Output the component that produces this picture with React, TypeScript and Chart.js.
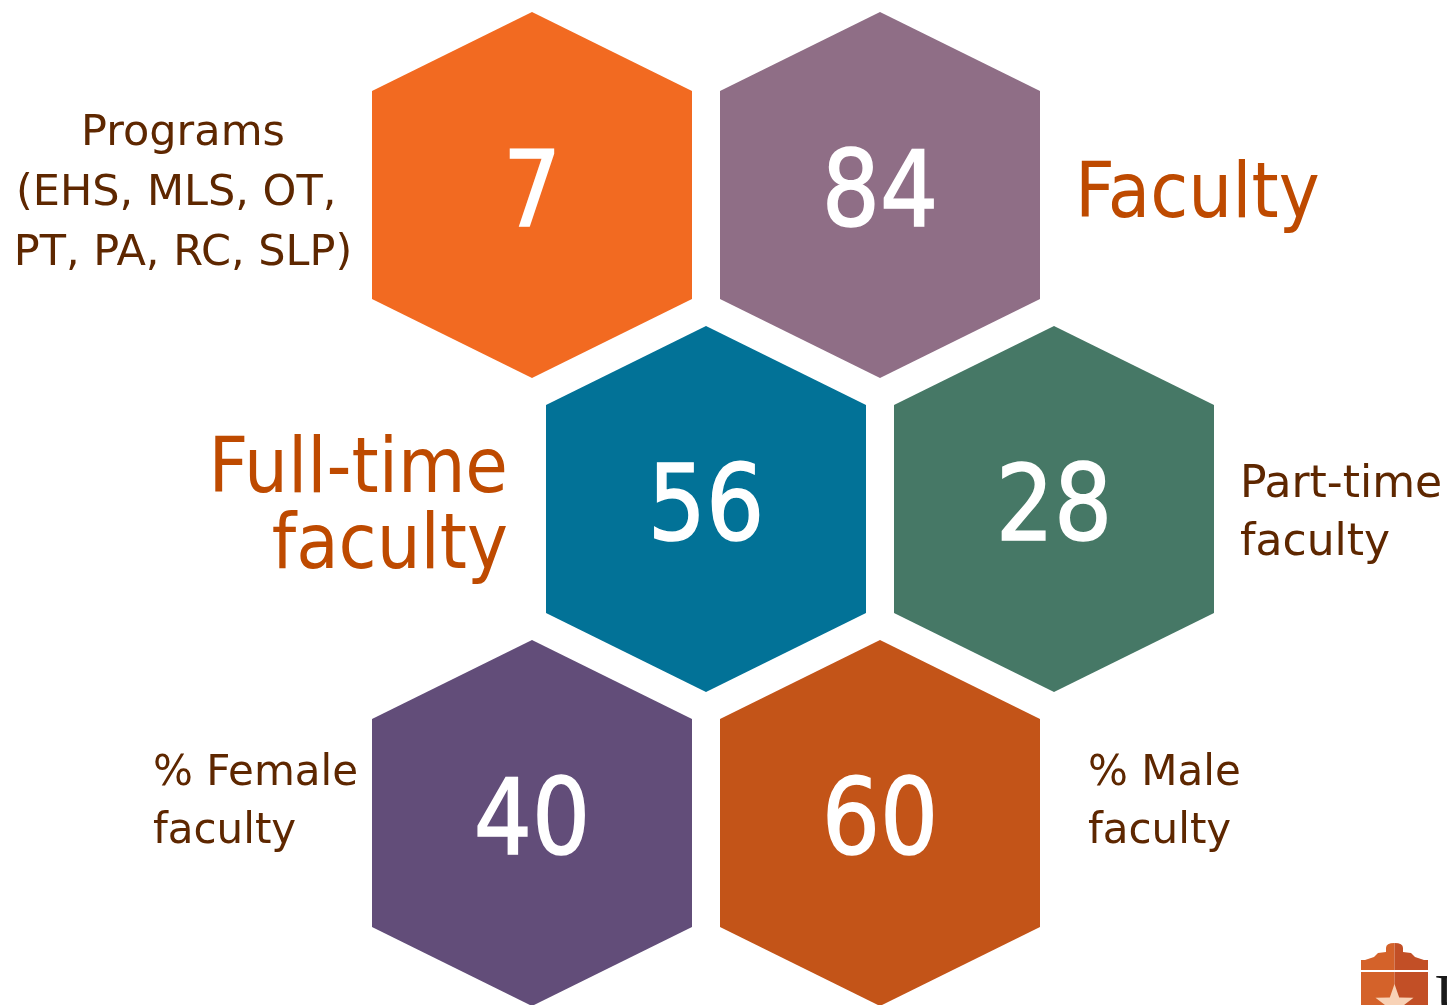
import { useEffect, useRef } from "react";
import { Chart, registerables } from "chart.js";

Chart.register(...registerables);

// ---- data ----
const categories = [
  "Programs",
  "Faculty",
  "Full-time faculty",
  "Part-time faculty",
  "% Female faculty",
  "% Male faculty",
];
const values = [7, 84, 56, 28, 40, 60];
// honeycomb grid position of each hexagon (half-column units, rows)
const gridCol = [0, 2, 1, 3, 0, 2];
const gridRow = [0, 0, 1, 1, 2, 2];
const hexColors = ["#F26A21", "#8F6E86", "#027297", "#467866", "#624D79", "#C35418"];

const labelLines = [
  ["Programs", "(EHS, MLS, OT, ", "PT, PA, RC, SLP)"],
  ["Faculty"],
  ["Full-time", "faculty"],
  ["Part-time", "faculty"],
  ["% Female", "faculty"],
  ["% Male", "faculty"],
];

// ---- layout / style (kept separate from data) ----
const W = 1447;
const H = 1005;
const COL_PX = 174;
const ROW_PX = 314;
const ORIGIN_X = 532;
const ORIGIN_Y = 195;
const HEX_HALF_W = 160 / COL_PX; // in column units
const HEX_HALF_H = 183 / ROW_PX; // in row units
const HEX_SHOULDER = 104 / ROW_PX; // in row units

const BROWN = "#5E2700";
const ORANGE = "#BE4A00";
const FAMILY_COND = '"DejaVu Sans Condensed", "DejaVu Sans", sans-serif';
const FAMILY_REG = '"DejaVu Sans", sans-serif';

const labelLayout = [
  { x: 183, y: 145, align: "center", size: 43, lh: 60, color: BROWN, cond: false },
  { x: 1075, y: 217, align: "left", size: 77, lh: 76, color: ORANGE, cond: true },
  { x: 508, y: 492, align: "right", size: 77, lh: 76, color: ORANGE, cond: true },
  { x: 1240, y: 497, align: "left", size: 44, lh: 58, color: BROWN, cond: false },
  { x: 153, y: 785, align: "left", size: 42, lh: 58, color: BROWN, cond: false },
  { x: 1088, y: 785, align: "left", size: 42, lh: 58, color: BROWN, cond: false },
];

const setFont = (ctx: CanvasRenderingContext2D, size: number, cond: boolean) => {
  ctx.font = `${size}px ${cond ? FAMILY_COND : FAMILY_REG}`;
  try {
    (ctx as any).fontStretch = cond ? "condensed" : "normal";
  } catch (e) {}
};

const hexPlugin = {
  id: "hexPlugin",
  afterDatasetsDraw(chart: any) {
    const ctx: CanvasRenderingContext2D = chart.ctx;
    const xs = chart.scales.x;
    const ys = chart.scales.y;
    const hw = Math.abs(xs.getPixelForValue(HEX_HALF_W) - xs.getPixelForValue(0));
    const hh = Math.abs(ys.getPixelForValue(HEX_HALF_H) - ys.getPixelForValue(0));
    const sh = Math.abs(ys.getPixelForValue(HEX_SHOULDER) - ys.getPixelForValue(0));
    const meta = chart.getDatasetMeta(0);
    ctx.save();
    meta.data.forEach((el: any, i: number) => {
      const cx = el.x;
      const cy = el.y;
      ctx.beginPath();
      ctx.moveTo(cx, cy - hh);
      ctx.lineTo(cx + hw, cy - sh);
      ctx.lineTo(cx + hw, cy + sh);
      ctx.lineTo(cx, cy + hh);
      ctx.lineTo(cx - hw, cy + sh);
      ctx.lineTo(cx - hw, cy - sh);
      ctx.closePath();
      ctx.fillStyle = hexColors[i];
      ctx.fill();

      ctx.save();
      ctx.translate(cx, cy + 31);
      ctx.scale(0.96, 1);
      setFont(ctx, 106, true);
      ctx.fillStyle = "#FFFFFF";
      ctx.strokeStyle = "#FFFFFF";
      ctx.lineWidth = 1.5;
      ctx.textAlign = "center";
      ctx.textBaseline = "alphabetic";
      ctx.fillText(String(values[i]), 0, 0);
      ctx.strokeText(String(values[i]), 0, 0);
      ctx.restore();
    });

    labelLines.forEach((lines, i) => {
      const L = labelLayout[i];
      setFont(ctx, L.size, L.cond);
      ctx.fillStyle = L.color;
      ctx.textAlign = L.align as CanvasTextAlign;
      ctx.textBaseline = "alphabetic";
      lines.forEach((t, k) => ctx.fillText(t, L.x, L.y + k * L.lh));
    });

    // logo fragment (bottom right)
    const lx = 1361, rx = 1428, mx = 1394.5;
    const shield = (x0: number, x1: number, color: string, left: boolean) => {
      ctx.beginPath();
      if (left) {
        ctx.moveTo(mx, 943);
        ctx.quadraticCurveTo(1386, 943, 1386, 948);
        ctx.lineTo(1386, 952);
        ctx.lineTo(1378, 953);
        ctx.lineTo(1374, 957);
        ctx.lineTo(x0 + 4, 960);
        ctx.lineTo(x0, 960);
        ctx.lineTo(x0, 1005);
        ctx.lineTo(mx, 1005);
      } else {
        ctx.moveTo(mx, 943);
        ctx.quadraticCurveTo(1403, 943, 1403, 948);
        ctx.lineTo(1403, 952);
        ctx.lineTo(1411, 953);
        ctx.lineTo(1415, 957);
        ctx.lineTo(x1 - 4, 960);
        ctx.lineTo(x1, 960);
        ctx.lineTo(x1, 1005);
        ctx.lineTo(mx, 1005);
      }
      ctx.closePath();
      ctx.fillStyle = color;
      ctx.fill();
    };
    shield(lx, rx, "#D4622A", true);
    shield(lx, rx, "#C24F26", false);
    ctx.fillStyle = "#FFFFFF";
    ctx.fillRect(lx, 970, rx - lx, 2);
    ctx.beginPath();
    const sr = 20, sr2 = 8, scx = mx, scy = 1004;
    for (let k = 0; k < 10; k++) {
      const r = k % 2 === 0 ? sr : sr2;
      const a = -Math.PI / 2 + (k * Math.PI) / 5;
      const px = scx + r * Math.cos(a);
      const py = scy + r * Math.sin(a);
      if (k === 0) ctx.moveTo(px, py);
      else ctx.lineTo(px, py);
    }
    ctx.closePath();
    ctx.fillStyle = "#F8D2B6";
    ctx.fill();
    ctx.font = '60px "Liberation Serif", serif';
    ctx.fillStyle = "#1A1A1A";
    ctx.textAlign = "left";
    ctx.fillText("U", 1435, 1015);
    ctx.restore();
  },
};

export default function App() {
  const ref = useRef<HTMLCanvasElement | null>(null);
  useEffect(() => {
    if (!ref.current) return;
    const chart = new Chart(ref.current, {
      type: "scatter",
      data: {
        labels: categories,
        datasets: [
          {
            label: "Hexagons",
            data: gridCol.map((c, i) => ({ x: c, y: gridRow[i] })),
            pointRadius: 0,
            pointHoverRadius: 0,
          },
        ],
      },
      options: {
        responsive: false,
        animation: false,
        events: [],
        layout: { padding: 0 },
        plugins: { legend: { display: false }, tooltip: { enabled: false } },
        scales: {
          x: {
            type: "linear",
            display: false,
            min: -ORIGIN_X / COL_PX,
            max: (W - ORIGIN_X) / COL_PX,
          },
          y: {
            type: "linear",
            display: false,
            reverse: true,
            min: -ORIGIN_Y / ROW_PX,
            max: (H - ORIGIN_Y) / ROW_PX,
          },
        },
      },
      plugins: [hexPlugin],
    });
    return () => chart.destroy();
  }, []);
  return (
    <div style={{ position: "absolute", left: 0, top: 0, width: W, height: H, background: "#FFFFFF" }}>
      <canvas ref={ref} width={W} height={H} style={{ display: "block", width: W, height: H }} />
    </div>
  );
}
